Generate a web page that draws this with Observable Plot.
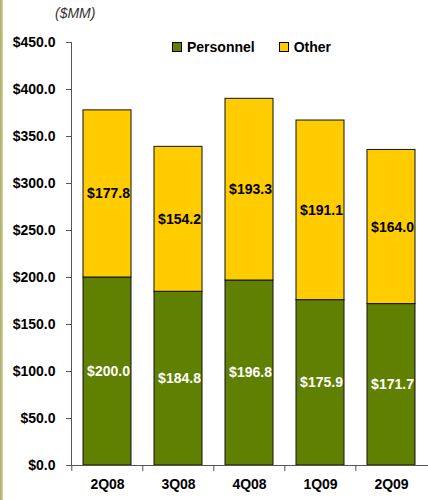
<!DOCTYPE html>
<html>
<head>
<meta charset="utf-8">
<script src="https://cdn.jsdelivr.net/npm/d3@7"></script>
<script src="https://cdn.jsdelivr.net/npm/@observablehq/plot@0.6"></script>
<style>
  html, body { margin: 0; padding: 0; background: #fff; }
  #wrap { position: relative; width: 428px; height: 500px; overflow: hidden; font-family: "Liberation Sans", Arial, sans-serif; }
  #stripe { position: absolute; left: 0; top: 0; width: 3px; height: 500px; background: linear-gradient(to right, #a8a860, #d8d8a8); }
  #unit { position: absolute; left: 55px; top: 5px; font-size: 14px; font-style: italic; color: #333; }
  #legend { position: absolute; left: 172px; top: 39px; font-size: 14px; font-weight: bold; color: #000; display: flex; align-items: center; }
  .sw { display: inline-block; width: 8px; height: 8px; border: 1px solid #000; margin-right: 5px; }
  .item { display: flex; align-items: center; margin-right: 24px; }
</style>
</head>
<body>
<div id="wrap">
  <div id="chart"></div>
  <div id="stripe"></div>
  <div id="unit">($MM)</div>
  <div id="legend"></div>
</div>
<script>
const quarters = ["2Q08", "3Q08", "4Q08", "1Q09", "2Q09"];
const personnel = [200.0, 184.8, 196.8, 175.9, 171.7];
const other = [177.8, 154.2, 193.3, 191.1, 164.0];
const seriesNames = ["Personnel", "Other"];
const seriesColors = ["#5f8000", "#ffcc00"];
const labelColors = ["#ffffff", "#000000"];
const yTicks = [0, 50, 100, 150, 200, 250, 300, 350, 400, 450];

const data = [];
quarters.forEach((q, i) => {
  data.push({quarter: q, series: seriesNames[0], value: personnel[i]});
  data.push({quarter: q, series: seriesNames[1], value: other[i]});
});

const fmt = v => "$" + v.toFixed(1);

const chart = Plot.plot({
  width: 428,
  height: 500,
  marginLeft: 71,
  marginRight: 0,
  marginTop: 42,
  marginBottom: 35,
  style: {fontFamily: "'Liberation Sans', Arial, sans-serif", fontSize: "14px", fontWeight: "bold", color: "#000", background: "transparent"},
  x: {domain: quarters, paddingInner: 0.32, paddingOuter: 0.16, label: null},
  y: {domain: [0, 450], label: null},
  color: {domain: seriesNames, range: seriesColors},
  marks: [
    Plot.barY(data, Plot.stackY({x: "quarter", y: "value", fill: "series", stroke: "#111", strokeWidth: 1, order: seriesNames})),
    Plot.text(data, Plot.stackY({x: "quarter", y: "value", z: "series", order: seriesNames, text: d => fmt(d.value),
      fill: d => labelColors[seriesNames.indexOf(d.series)], fontSize: 14, fontWeight: "bold", dx: 1})),
    Plot.axisY({ticks: yTicks, tickFormat: fmt, tickSize: 5, tickPadding: 11, stroke: "#555", fontSize: 14, fontWeight: "bold", label: null}),
    Plot.axisX({tickSize: 0, tickPadding: 14, fontSize: 14, fontWeight: "bold", label: null}),
    Plot.ruleX(quarters, {x: d => d, y1: 0, y2: 0, insetBottom: -6, dx: -35.7, stroke: "#555"}),
    Plot.ruleY([0], {stroke: "#555"}),
    Plot.frame({anchor: "left", stroke: "#555"})
  ]
});
document.getElementById("chart").appendChild(chart);

const legend = document.getElementById("legend");
seriesNames.forEach((s, i) => {
  const it = document.createElement("span");
  it.className = "item";
  it.innerHTML = `<span class="sw" style="background:${seriesColors[i]}"></span>${s}`;
  legend.appendChild(it);
});
</script>
</body>
</html>
